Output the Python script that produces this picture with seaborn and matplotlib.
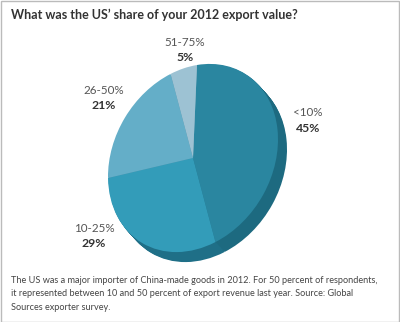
import matplotlib
matplotlib.use("Agg")
import numpy as np
import matplotlib.pyplot as plt
import seaborn as sns
from matplotlib.patches import Rectangle
from matplotlib.transforms import Affine2D

sns.set_theme(style="white")
plt.rcParams['font.family'] = ['Lato', 'DejaVu Sans']

categories = ["<10%", "10-25%", "26-50%", "51-75%"]
values = [45, 29, 21, 5]
pct_labels = ["45%", "29%", "21%", "5%"]
title = "What was the US\u2019 share of your 2012 export value?"
caption = ("The US was a major importer of China-made goods in 2012. For 50 percent of respondents,\n"
           "it represented between 10 and 50 percent of export revenue last year. Source: Global\n"
           "Sources exporter survey.")

face_colors = sns.color_palette(["#2A86A0", "#339CB9", "#64AEC8", "#9DC2D3"])
side_colors = sns.color_palette(["#1D6A80", "#1F6F87", "#3F8CA6", "#7FA9BB"])

W, H = 400, 322
fig = plt.figure(figsize=(W / 100, H / 100), dpi=100)
fig.patch.set_facecolor("white")
ax = fig.add_axes([0, 0, 1, 1])
ax.axis('off')

# tilted (perspective-like) pie: unit-circle pie mapped by an affine matrix to pixels
cx, cy = 193.0, H - 158.0
a, b, c, d = 84.9, 4.0, 14.2, 93.0


def draw(colors, ox, oy):
    wedges, _ = ax.pie(values, colors=colors, startangle=90, counterclock=False,
                       wedgeprops=dict(linewidth=0))
    tr = Affine2D(np.array([[a, b, cx + ox], [c, d, cy + oy], [0.0, 0.0, 1.0]]))
    for w in wedges:
        w.set_transform(tr)
        w.set_clip_on(False)


steps = 12
dx_px, dy_px = 9.0, 10.0
for i in range(steps, 0, -1):
    f = i / steps
    draw(side_colors, f * dx_px, -f * dy_px)
draw(face_colors, 0, 0)
ax.set_aspect('auto')
ax.set_xlim(0, 1)
ax.set_ylim(0, 1)
ax.axis('off')

# labels in pixel coordinates
label_pos = [(308, 113), (94, 228), (104, 90), (185, 42)]
for (lx, ly), cat, pct in zip(label_pos, categories, pct_labels):
    fig.text(lx / W, 1 - ly / H, cat, ha='center', va='center', fontsize=8.4, color="#555555")
    fig.text(lx / W, 1 - (ly + 15.5) / H, pct, ha='center', va='center', fontsize=8.8,
             color="#333333", fontweight='bold')

fig.text(11 / W, 1 - 15 / H, title, ha='left', va='center', fontsize=9.0,
         color="#333333", fontweight='bold')
fig.text(11 / W, 1 - 276 / H, caption, ha='left', va='top', fontsize=6.6,
         color="#444444", linespacing=1.62)

fig.patches.append(Rectangle((0.5 / W, 0.5 / H), 1 - 1.5 / W, 1 - 1.5 / H,
                             transform=fig.transFigure, fill=False,
                             edgecolor="#BBBBBB", linewidth=1))

fig.savefig("out.png", dpi=100)
